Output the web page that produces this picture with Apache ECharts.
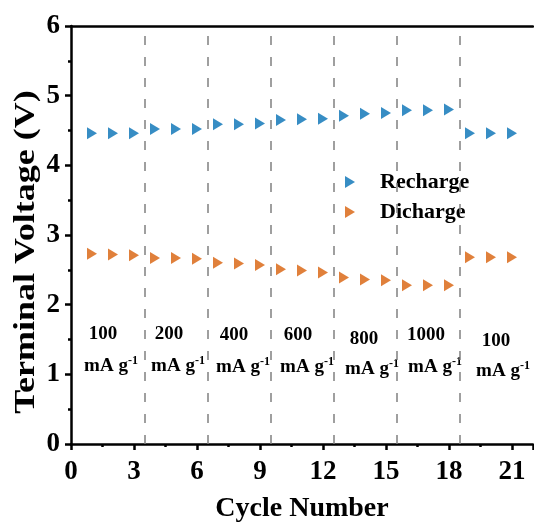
<!DOCTYPE html>
<html>
<head>
<meta charset="utf-8">
<script src="https://cdn.jsdelivr.net/npm/echarts@6/dist/echarts.min.js"></script>
<style>
  html, body { margin: 0; padding: 0; background: #fff; }
  #chart { width: 534px; height: 525px; }
</style>
</head>
<body>
<div id="chart"></div>
<script>
// Rate-capability test: terminal voltage per cycle at stepped current densities
const cycles = [1, 2, 3, 4, 5, 6, 7, 8, 9, 10, 11, 12, 13, 14, 15, 16, 17, 18, 19, 20, 21];
const recharge = [4.46, 4.46, 4.46, 4.52, 4.52, 4.52, 4.59, 4.59, 4.60, 4.65, 4.66, 4.67, 4.71, 4.74, 4.75, 4.79, 4.79, 4.80, 4.46, 4.46, 4.46];
const discharge = [2.73, 2.72, 2.71, 2.67, 2.67, 2.66, 2.60, 2.59, 2.57, 2.51, 2.49, 2.46, 2.39, 2.36, 2.35, 2.28, 2.28, 2.28, 2.68, 2.68, 2.68];
const stageBoundaries = [3.5, 6.5, 9.5, 12.5, 15.5, 18.5];
const currentDensities = ['100', '200', '400', '600', '800', '1000', '100'];
const xTicks = [0, 3, 6, 9, 12, 15, 18, 21];
const yTitle = 'Terminal Voltage (V)';
const xTitle = 'Cycle Number';

const FONT = "'Liberation Serif', 'Times New Roman', serif";
const BLUE = '#0570b5';
const ORANGE = '#d8600a';
// right-pointing triangle marker
const RIGHT_TRIANGLE = 'path://M0,0L10,6L0,12Z';

// Pixel placement of the current-density captions: [numberX, numberY, unitX, unitY]
const captionLayout = [
  [103, 334, 111, 366],
  [169, 334, 178, 366],
  [234, 335, 243, 367],
  [298, 335, 307, 367],
  [364, 339, 372, 369],
  [426, 335, 435, 367],
  [496, 341, 503, 371]
];

const chart = echarts.init(document.getElementById('chart'), null, { renderer: 'canvas' });

const pair = (ys) => cycles.map((c, i) => [c, ys[i]]);

const graphics = [];
currentDensities.forEach((d, i) => {
  const [nx, ny, ux, uy] = captionLayout[i];
  graphics.push({
    type: 'text', x: nx, y: ny,
    style: { text: d, font: 'bold 19px ' + FONT, fill: '#000', align: 'center', verticalAlign: 'middle' }
  });
  graphics.push({
    type: 'text', x: ux, y: uy,
    style: {
      text: '{u|mA g}{s|-1}',
      align: 'center', verticalAlign: 'middle',
      rich: {
        u: { fontFamily: FONT, fontWeight: 'bold', fontSize: 19, color: '#000' },
        s: { fontFamily: FONT, fontWeight: 'bold', fontSize: 12, color: '#000', verticalAlign: 'top', padding: [0, 0, 10, 0] }
      }
    }
  });
});

// Vertical axis title: tall, narrow lettering set along the left edge
graphics.push({
  type: 'text', x: 26, y: 252, rotation: Math.PI / 2, scaleY: 0.84,
  style: { text: yTitle, font: 'bold 36px ' + FONT, fill: '#000', align: 'center', verticalAlign: 'middle' }
});

const tickFont = { fontFamily: FONT, fontWeight: 'bold', fontSize: 27, color: '#000' };

chart.setOption({
  animation: false,
  backgroundColor: '#fff',
  grid: { left: 71, right: 1, top: 26, bottom: 81, containLabel: false, outerBoundsMode: 'none' },
  legend: {
    left: 340, top: 166, orient: 'vertical', itemGap: 8,
    itemWidth: 10, itemHeight: 12,
    textStyle: { fontFamily: FONT, fontWeight: 'bold', fontSize: 22, color: '#000', padding: [0, 0, 0, 20] },
    data: [
      { name: 'Recharge', icon: RIGHT_TRIANGLE },
      { name: 'Dicharge', icon: RIGHT_TRIANGLE }
    ]
  },
  xAxis: [{
    type: 'value', min: 0, max: 22, interval: 3,
    name: xTitle, nameLocation: 'middle', nameGap: 51,
    nameTextStyle: { fontFamily: FONT, fontWeight: 'bold', fontSize: 28, color: '#000' },
    axisLine: { lineStyle: { color: '#000', width: 2.5 } },
    axisTick: { show: true, length: 6, lineStyle: { color: '#000', width: 2.5 } },
    minorTick: { show: true, splitNumber: 2, length: 3, lineStyle: { color: '#000', width: 2.5 } },
    axisLabel: Object.assign({ margin: 15, showMaxLabel: false,
      formatter: (v) => (xTicks.indexOf(v) >= 0 ? String(v) : '') }, tickFont),
    splitLine: { show: false }
  }, {
    type: 'value', min: 0, max: 22, position: 'top',
    axisLine: { show: true, lineStyle: { color: '#000', width: 2.5 } },
    axisTick: { show: false }, axisLabel: { show: false }, splitLine: { show: false }
  }],
  yAxis: {
    type: 'value', min: 0, max: 6, interval: 1,
    axisLine: { show: true, lineStyle: { color: '#000', width: 2.5 } },
    axisTick: { show: true, length: 6, lineStyle: { color: '#000', width: 2.5 } },
    minorTick: { show: true, splitNumber: 2, length: 3, lineStyle: { color: '#000', width: 2.5 } },
    axisLabel: Object.assign({ margin: 11 }, tickFont),
    splitLine: { show: false }
  },
  graphic: graphics,
  series: [{
    name: 'Recharge', type: 'scatter', data: pair(recharge),
    symbol: RIGHT_TRIANGLE, symbolSize: [10, 12],
    itemStyle: { color: BLUE },
    markLine: {
      silent: true, symbol: 'none', label: { show: false },
      lineStyle: { color: '#808080', width: 1.5, type: [9, 12] },
      data: stageBoundaries.map((x) => ({ xAxis: x }))
    }
  }, {
    name: 'Dicharge', type: 'scatter', data: pair(discharge),
    symbol: RIGHT_TRIANGLE, symbolSize: [10, 12],
    itemStyle: { color: ORANGE }
  }]
});
</script>
</body>
</html>
